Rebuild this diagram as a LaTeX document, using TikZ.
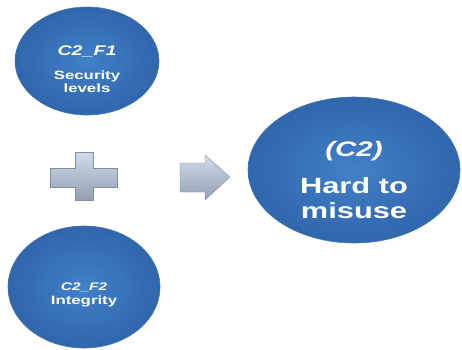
\documentclass[tikz,border=0pt]{standalone}
\usepackage{fontspec}
\setmainfont{Liberation Sans}
\newfontfamily\wideface[FakeStretch=1.4]{Liberation Sans}
\usetikzlibrary{shapes.geometric}
\definecolor{ballblue}{RGB}{66,128,200}
\definecolor{balledge}{RGB}{48,102,172}
\definecolor{signgray}{RGB}{172,188,214}
\tikzset{
  ball/.style={ellipse,inner sep=0pt,
    inner color=ballblue,outer color=balledge,draw=balledge!90!white,line width=0.6pt},
  balltext/.style={text=white,align=center,inner sep=0pt},
  sign/.style={top color=signgray!55!white,bottom color=signgray!85!black,draw=signgray!75!black,line width=0.4pt}
}
\begin{document}
\begin{tikzpicture}[x=1pt,y=-1pt]
  \useasboundingbox (0,0) rectangle (462,349);
  \node[ball,minimum width=144pt,minimum height=108pt,
    label={[balltext,yshift=-8pt,font=\wideface\bfseries\fontsize{12}{13}\selectfont]center:{%
      {\fontsize{14}{14}\selectfont\itshape C2\_F1}\\[11pt]Security\\levels}}] (F1) at (87,61) {};
  \node[ball,minimum width=152pt,minimum height=122pt,
    label={[balltext,yshift=-8pt,font=\wideface\bfseries\fontsize{12}{14}\selectfont]center:{%
      {\fontsize{11}{11}\selectfont\itshape C2\_F2}\\Integrity}}] (F2) at (84,287) {};
  \node[ball,minimum width=212pt,minimum height=146pt,
    label={[balltext,yshift=-10pt,font=\wideface\bfseries\fontsize{22}{25}\selectfont]center:{%
      {\fontsize{21}{21}\selectfont\itshape (C2)}\\[12pt]Hard to\\misuse}}] (C2) at (354,170) {};
  % plus sign
  \shade[sign] (75,152) -- (93,152) -- (93,168) -- (117,168) -- (117,187) -- (93,187)
    -- (93,200) -- (75,200) -- (75,187) -- (50,187) -- (50,168) -- (75,168) -- cycle;
  % arrow
  \shade[sign] (180,163) -- (205,163) -- (205,155) -- (230,177) -- (205,200) -- (205,192)
    -- (180,192) -- cycle;
\end{tikzpicture}
\end{document}
